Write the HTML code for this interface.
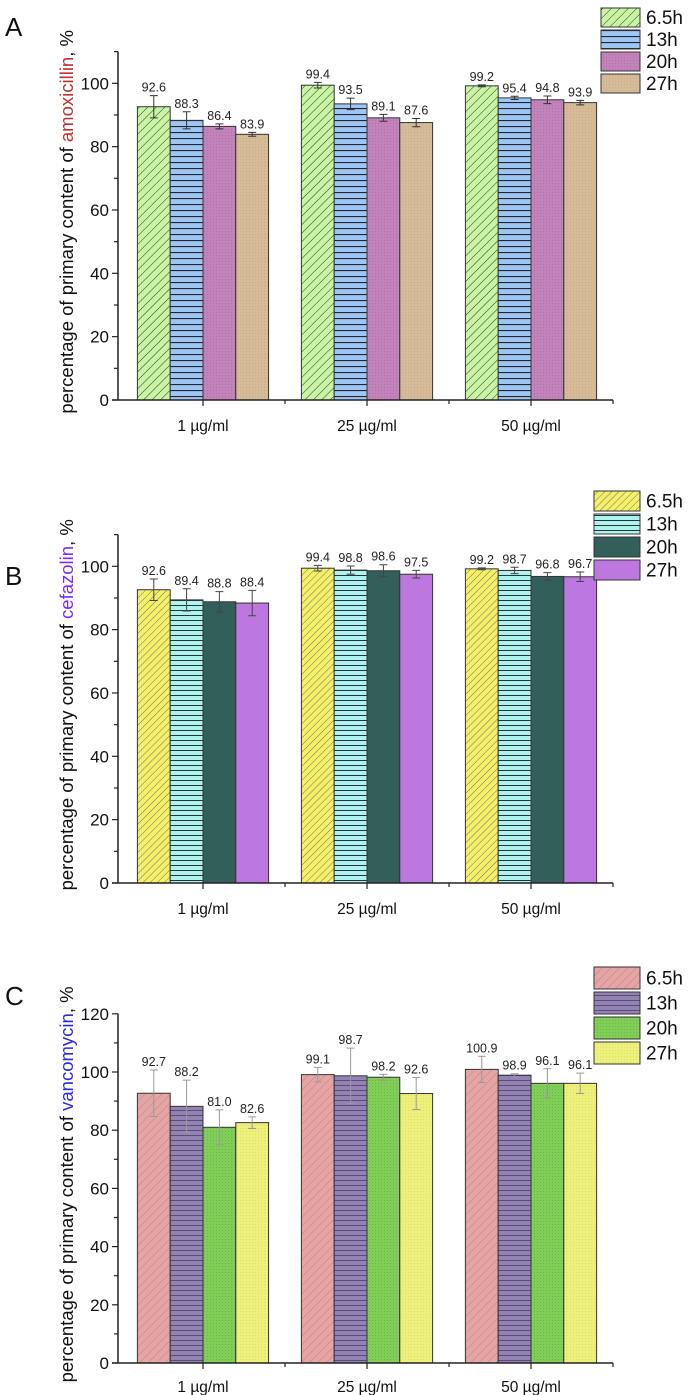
<!DOCTYPE html>
<html><head><meta charset="utf-8"><style>
body{margin:0;background:#fff;width:688px;height:1395px;overflow:hidden}
svg{display:block;font-family:"Liberation Sans",Arial,sans-serif}
</style></head><body>
<svg id="svg" width="688" height="1395" viewBox="0 0 688 1395">
<defs>
<pattern id="pA0" width="6" height="6" patternUnits="userSpaceOnUse" patternTransform="rotate(45)"><rect width="6" height="6" fill="#c8f5a2"/><line x1="0" y1="0" x2="0" y2="6" stroke="#333" stroke-width="1"/></pattern>
<pattern id="pA1" width="6" height="6" patternUnits="userSpaceOnUse"><rect width="6" height="6" fill="#9ec6f2"/><line x1="0" y1="0.5" x2="6" y2="0.5" stroke="#223" stroke-width="1.2"/></pattern>
<pattern id="pA2" width="3" height="3" patternUnits="userSpaceOnUse"><rect width="3" height="3" fill="#c282ba"/><rect width="1" height="1" fill="#b070a8"/></pattern>
<pattern id="pA3" width="3" height="3" patternUnits="userSpaceOnUse"><rect width="3" height="3" fill="#d6bb98"/><rect width="1" height="1" fill="#c8ac88"/></pattern>
<pattern id="pB0" width="5" height="5" patternUnits="userSpaceOnUse" patternTransform="rotate(45)"><rect width="5" height="5" fill="#f4f06a"/><line x1="0" y1="0" x2="0" y2="5" stroke="#555" stroke-width="0.8"/></pattern>
<pattern id="pB1" width="5" height="5" patternUnits="userSpaceOnUse"><rect width="5" height="5" fill="#aef3ec"/><line x1="0" y1="0.5" x2="5" y2="0.5" stroke="#234" stroke-width="1"/></pattern>
<pattern id="pB2" width="3" height="3" patternUnits="userSpaceOnUse"><rect width="3" height="3" fill="#325f5a"/></pattern>
<pattern id="pB3" width="3" height="3" patternUnits="userSpaceOnUse"><rect width="3" height="3" fill="#bc78de"/></pattern>
<pattern id="pC0" width="6" height="6" patternUnits="userSpaceOnUse" patternTransform="rotate(45)"><rect width="6" height="6" fill="#e6a5a5"/><line x1="0" y1="0" x2="0" y2="6" stroke="#b77" stroke-width="0.8"/></pattern>
<pattern id="pC1" width="5" height="5" patternUnits="userSpaceOnUse"><rect width="5" height="5" fill="#9283b3"/><line x1="0" y1="0.5" x2="5" y2="0.5" stroke="#5a4c7a" stroke-width="1"/></pattern>
<pattern id="pC2" width="3" height="3" patternUnits="userSpaceOnUse"><rect width="3" height="3" fill="#80cd58"/><rect width="1" height="1" fill="#6cb848"/></pattern>
<pattern id="pC3" width="3" height="3" patternUnits="userSpaceOnUse"><rect width="3" height="3" fill="#eef07c"/><rect width="1" height="1" fill="#dede6a"/></pattern>
</defs>
</svg>
<script>
const categories=["1 µg/ml","25 µg/ml","50 µg/ml"];
const seriesNames=["6.5h","13h","20h","27h"];
const valuesA=[[92.6,99.4,99.2],[88.3,93.5,95.4],[86.4,89.1,94.8],[83.9,87.6,93.9]];
const errorsA=[[3.5,0.9,0.3],[2.7,1.8,0.5],[0.8,1.1,1.2],[0.6,1.3,0.7]];
const valuesB=[[92.6,99.4,99.2],[89.4,98.8,98.7],[88.8,98.6,96.8],[88.4,97.5,96.7]];
const errorsB=[[3.4,0.9,0.3],[3.5,1.3,1.0],[3.2,1.9,1.2],[4.0,1.2,1.5]];
const valuesC=[[92.7,99.1,100.9],[88.2,98.7,98.9],[81.0,98.2,96.1],[82.6,92.6,96.1]];
const errorsC=[[8,2.5,4.5],[9,9.5,0.5],[6,1,5],[2,5.5,3.5]];
const ticksAB=[0,20,40,60,80,100];
const ticksC=[0,20,40,60,80,100,120];

const NS="http://www.w3.org/2000/svg";
const svg=document.getElementById('svg');
function mk(tag,attrs,parent,txt){const e=document.createElementNS(NS,tag);for(const k in attrs)e.setAttribute(k,attrs[k]);if(txt!==undefined)e.textContent=txt;(parent||svg).appendChild(e);return e;}

const panels=[
 {id:'a',letter:'A',lx:5,ly:36,zero:400,ppu:3.167,ymax:110,ticks:ticksAB,vals:valuesA,errs:errorsA,pat:'pA',drug:'amoxicillin',dc:'#c0302f',leg:[601,8,22],errc:'#333',lab:31},
 {id:'b',letter:'B',lx:5,ly:585,zero:883,ppu:3.167,ymax:110,ticks:ticksAB,vals:valuesB,errs:errorsB,pat:'pB',drug:'cefazolin',dc:'#7b2cf5',leg:[594,491,23],errc:'#444',lab:31},
 {id:'c',letter:'C',lx:5,ly:1005,zero:1363,ppu:2.91,ymax:120,ticks:ticksC,vals:valuesC,errs:errorsC,pat:'pC',drug:'vancomycin',dc:'#2a2ae0',leg:[594,967,25],errc:'#999',lab:29}
];
const axX=118, axEnd=613, groupC=[203,367,531], bw=32.8;

panels.forEach(p=>{
  const g=mk('g',{});
  
  
  const y=v=>p.zero-v*p.ppu;
  const x=(gi,si)=>groupC[gi]+(si-2)*bw;
  const L=mk('text',{x:p.lx,y:p.ly,'font-size':26,fill:'#111'},g,p.letter);
  
  
  p.vals.forEach((ser,si)=>{ser.forEach((v,gi)=>{
    const r=mk('rect',{x:x(gi,si),y:y(v),width:bw,height:v*p.ppu,fill:'url(#'+p.pat+si+')',stroke:'#333','stroke-width':1},g);
    
    
    const cx=x(gi,si)+bw/2,e=p.errs[si][gi];
    const eb=mk('path',{d:`M${cx-4},${y(v+e)}H${cx+4}M${cx},${y(v+e)}V${y(v-e)}M${cx-4},${y(v-e)}H${cx+4}`,stroke:p.errc,'stroke-width':1,fill:'none'},g);
    
    
    const t=mk('text',{x:cx,y:y(v+e)-4,'text-anchor':'middle','font-size':12.5,fill:'#222'},g,v.toFixed(1));
    
    
  });});
  const top=y(p.ymax);
  const ya=mk('line',{x1:axX,y1:top,x2:axX,y2:p.zero,stroke:'#222','stroke-width':1.5},g);
  
  
  const xa=mk('line',{x1:axX-6,y1:p.zero,x2:axEnd,y2:p.zero,stroke:'#222','stroke-width':1.5},g);
  
  
  for(let v=10;v<=p.ymax;v+=20){mk('line',{x1:axX-4,y1:y(v),x2:axX,y2:y(v),stroke:'#222','stroke-width':1.2},g);}
  p.ticks.forEach(v=>{
    mk('line',{x1:axX-6,y1:y(v),x2:axX,y2:y(v),stroke:'#222','stroke-width':1.2},g);
    const t=mk('text',{x:axX-9,y:y(v)+6,'text-anchor':'end','font-size':17,fill:'#111'},g,String(v));
    
    
  });
  [285,449].forEach(xx=>mk('line',{x1:xx,y1:p.zero,x2:xx,y2:p.zero+4,stroke:'#222','stroke-width':1.2},g));
  mk('line',{x1:axEnd,y1:p.zero,x2:axEnd,y2:p.zero+4,stroke:'#222','stroke-width':1.2},g);
  categories.forEach((c,gi)=>{
    mk('line',{x1:groupC[gi],y1:p.zero,x2:groupC[gi],y2:p.zero+6,stroke:'#222','stroke-width':1.2},g);
    const t=mk('text',{x:groupC[gi],y:p.zero+p.lab,'text-anchor':'middle','font-size':15.5,fill:'#111'},g,c);
    
    
  });
  const midY=(p.zero+top)/2-4;
  const tt=mk('text',{x:0,y:0,transform:`translate(73,${midY}) rotate(-90)`,'text-anchor':'middle','font-size':18.5,fill:'#111'},g);
  
  
  mk('tspan',{},tt,'percentage of primary content of ');
  mk('tspan',{fill:p.dc},tt,p.drug);
  mk('tspan',{},tt,', %');
  const [lx,ly,step]=p.leg;
  seriesNames.forEach((n,si)=>{
    const lg=mk('g',{},g);
    
    
    mk('rect',{x:lx,y:ly+si*step,width:640-lx,height:step-3,fill:'url(#'+p.pat+si+')',stroke:'#333','stroke-width':1},lg);
    mk('text',{x:646,y:ly+si*step+step/2+5,'font-size':19,fill:'#111'},lg,n);
  });
});
</script>
</body></html>
